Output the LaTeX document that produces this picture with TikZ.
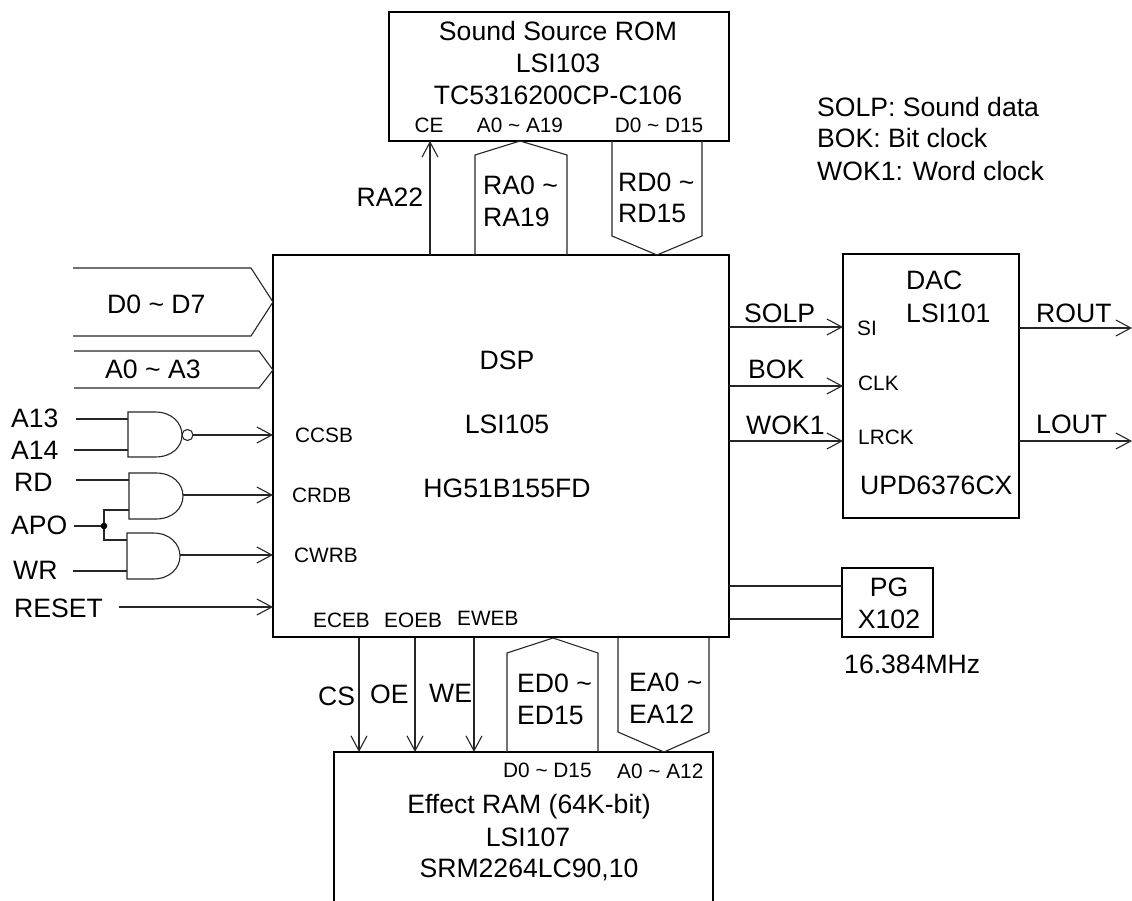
\documentclass[tikz,border=0pt]{standalone}
\usepackage{fontspec}
\setmainfont{Liberation Sans}
\usetikzlibrary{arrows.meta}
\newcommand{\bigf}{\fontsize{26.6}{30}\selectfont}
\newcommand{\smallf}{\fontsize{20.8}{24}\selectfont}
\newcommand{\tld}{\textasciitilde}
\tikzset{
  box/.style={draw=black,line width=2pt,anchor=north west,inner sep=0pt,outer sep=0pt},
  wire/.style={draw=black!85,line width=1.1pt},
  arr/.style={wire,-{Straight Barb[length=15pt,width=16pt,line width=1.1pt]}},
  big/.style={font=\bigf,inner sep=0pt},
  sml/.style={font=\smallf,inner sep=0pt},
}
\begin{document}
\begin{tikzpicture}[x=1pt,y=-1pt]
\useasboundingbox (0,0) rectangle (1132,901);
% boxes
\node[box,minimum width=340pt,minimum height=129pt] (rom) at (389,12) {};
\node[box,minimum width=456pt,minimum height=382pt] (dsp) at (273,255) {};
\node[box,minimum width=176pt,minimum height=264pt] (dac) at (843,254) {};
\node[box,minimum width=91pt,minimum height=69pt] (pg) at (842,568) {};
% RAM: open at the bottom, its sides run off the picture
\coordinate (ramBL) at (334,901);
\coordinate (ramTL) at (334,752);
\coordinate (ramTR) at (713,752);
\coordinate (ramBR) at (713,901);
\draw[black,line width=2pt] (ramBL) -- (ramTL) -- (ramTR) -- (ramBR);
% ports
\coordinate (dspCE) at (430,255); \coordinate (romCE) at (430,141);
\draw[arr] (dspCE) -- (romCE);
% buses
\draw[wire] (475,255) -- (475,155) -- (520,141) -- (567,155) -- (567,255);
\draw[wire] (612,141) -- (612,236) -- (657,255) -- (702,236) -- (702,141);
\draw[wire] (73,268) -- (251,268) -- (273,302) -- (251,336) -- (73,336);
\draw[wire] (74,351) -- (259,351) -- (273,370) -- (259,388) -- (74,388);
\draw[wire] (507,752) -- (507,653) -- (553,638) -- (598,653) -- (598,752);
\draw[wire] (618,638) -- (618,732) -- (664,752) -- (709,732) -- (709,638);
% gates
\coordinate (g1a) at (128,419); \coordinate (g1b) at (128,450);
\coordinate (g2a) at (129,480); \coordinate (g2b) at (129,510);
\coordinate (g3a) at (127,540); \coordinate (g3b) at (127,571);
\draw[wire] (128,412) -- (155,412) .. controls (172,412) and (182,423) .. (182,435) .. controls (182,447) and (172,457) .. (155,457) -- (128,457) -- cycle;
\draw[wire] (129,473) -- (156,473) .. controls (173,473) and (183,484) .. (183,496) .. controls (183,508) and (173,519) .. (156,519) -- (129,519) -- cycle;
\draw[wire] (127,533) -- (153,533) .. controls (170,533) and (180,544) .. (180,556) .. controls (180,568) and (170,579) .. (153,579) -- (127,579) -- cycle;
\node[draw=black!85,line width=1.1pt,circle,minimum size=11pt,inner sep=0pt,outer sep=0pt] (bub) at (187.5,435) {};
\coordinate (inA13) at (76,419); \coordinate (inA14) at (74,450);
\coordinate (inRD) at (76,480); \coordinate (inAPO) at (74,526);
\coordinate (inWR) at (73,571); \coordinate (inRST) at (119,607);
\coordinate (apoJ) at (104,526);
\draw[wire] (inA13) -- (g1a);
\draw[wire] (inA14) -- (g1b);
\draw[wire] (inRD) -- (g2a);
\draw[wire] (inWR) -- (g3b);
\draw[wire] (inAPO) -- (apoJ);
\draw[wire] (g2b) -| (apoJ) |- (g3a);
\fill[black] (apoJ) circle (3.3pt);
\coordinate (dCC) at (273,435); \coordinate (dCR) at (273,495);
\coordinate (dCW) at (273,555); \coordinate (dRS) at (273,607);
\draw[arr] (bub.east) -- (dCC);
\coordinate (g2o) at (183,495); \coordinate (g3o) at (180,555);
\draw[arr] (g2o) -- (dCR);
\draw[arr] (g3o) -- (dCW);
\draw[arr] (inRST) -- (dRS);
% right side
\coordinate (sA) at (729,327); \coordinate (sB) at (843,327);
\coordinate (bA) at (729,386); \coordinate (bB) at (843,386);
\coordinate (wA) at (729,441); \coordinate (wB) at (843,441);
\coordinate (rA) at (1019,328); \coordinate (rB) at (1132,328);
\coordinate (lA) at (1019,441); \coordinate (lB) at (1132,441);
\draw[arr] (sA) -- (sB);
\draw[arr] (bA) -- (bB);
\draw[arr] (wA) -- (wB);
\draw[arr] (rA) -- (rB);
\draw[arr] (lA) -- (lB);
\coordinate (p1A) at (729,586); \coordinate (p1B) at (842,586);
\coordinate (p2A) at (729,619); \coordinate (p2B) at (842,619);
\draw[wire] (p1A) -- (p1B);
\draw[wire] (p2A) -- (p2B);
% bottom control
\coordinate (cA) at (359,638); \coordinate (cB) at (359,752);
\coordinate (oA) at (415,638); \coordinate (oB) at (415,752);
\coordinate (eA) at (474,638); \coordinate (eB) at (474,752);
\draw[arr] (cA) -- (cB);
\draw[arr] (oA) -- (oB);
\draw[arr] (eA) -- (eB);
% text: ROM
\node[big,anchor=base] (t1) at (558,41) {Sound Source ROM};
\node[big,anchor=base] (t2) at (558,73) {LSI103};
\node[big,anchor=base] (t3) at (558,105) {TC5316200CP-C106};
\node[sml,anchor=base] (t4) at (429,133) {CE};
\node[sml,anchor=base] (t5) at (520,133) {A0 \tld{} A19};
\node[sml,anchor=base] (t6) at (659,133) {D0 \tld{} D15};
\node[big,anchor=base] (t7) at (390,207) {RA22};
\node[big,anchor=base west] (t8) at (483,195) {RA0 \tld};
\node[big,anchor=base west] (t9) at (483,227) {RA19};
\node[big,anchor=base west] (t10) at (618,192) {RD0 \tld};
\node[big,anchor=base west] (t11) at (618,223) {RD15};
% legend
\node[big,anchor=base west] (t12) at (817,117) {SOLP: Sound data};
\node[big,anchor=base west] (t13) at (817,148) {BOK: Bit clock};
\node[big,anchor=base west] (t14) at (817,181) {WOK1: Word clock};
% left
\node[big,anchor=base west] (t15) at (107,313) {D0 \tld{} D7};
\node[big,anchor=base west] (t16) at (105,378) {A0 \tld{} A3};
\node[big,anchor=base west] (t17) at (11,427) {A13};
\node[big,anchor=base west] (t18) at (11,459) {A14};
\node[big,anchor=base west] (t19) at (14,491) {RD};
\node[big,anchor=base west] (t20) at (11,534) {APO};
\node[big,anchor=base west] (t21) at (13,579) {WR};
\node[big,anchor=base west] (t22) at (14,617) {RESET};
% DSP
\node[big,anchor=base] (t23) at (507,369) {DSP};
\node[big,anchor=base] (t24) at (507,433) {LSI105};
\node[big,anchor=base] (t25) at (507,497) {HG51B155FD};
\node[sml,anchor=base west] (t26) at (295,442) {CCSB};
\node[sml,anchor=base west] (t27) at (292,502) {CRDB};
\node[sml,anchor=base west] (t28) at (294,562) {CWRB};
\node[sml,anchor=base west] (t29) at (313,627) {ECEB};
\node[sml,anchor=base west] (t30) at (384,627) {EOEB};
\node[sml,anchor=base west] (t31) at (457,625) {EWEB};
% bottom
\node[big,anchor=base west] (t32) at (318,705) {CS};
\node[big,anchor=base west] (t33) at (370,703) {OE};
\node[big,anchor=base west] (t34) at (429,702) {WE};
\node[big,anchor=base west] (t35) at (517,692) {ED0 \tld};
\node[big,anchor=base west] (t36) at (517,724) {ED15};
\node[big,anchor=base west] (t37) at (629,691) {EA0 \tld};
\node[big,anchor=base west] (t38) at (629,723) {EA12};
\node[sml,anchor=base west] (t39) at (503,777) {D0 \tld{} D15};
\node[sml,anchor=base west] (t40) at (617,778) {A0 \tld{} A12};
\node[big,anchor=base] (t41) at (529,813) {Effect RAM (64K-bit)};
\node[big,anchor=base] (t42) at (528,846) {LSI107};
\node[big,anchor=base] (t43) at (529,877) {SRM2264LC90,10};
% DAC
\node[big,anchor=base west] (t44) at (906,290) {DAC};
\node[big,anchor=base west] (t45) at (906,322) {LSI101};
\node[sml,anchor=base west] (t46) at (857,335) {SI};
\node[sml,anchor=base west] (t47) at (858,390) {CLK};
\node[sml,anchor=base west] (t48) at (858,444) {LRCK};
\node[big,anchor=base west] (t49) at (860,494) {UPD6376CX};
\node[big,anchor=base west] (t50) at (744,322) {SOLP};
\node[big,anchor=base west] (t51) at (748,378) {BOK};
\node[big,anchor=base west] (t52) at (746,434) {WOK1};
\node[big,anchor=base west] (t53) at (1036,322) {ROUT};
\node[big,anchor=base west] (t54) at (1036,433) {LOUT};
\node[big,anchor=base] (t55) at (889,596) {PG};
\node[big,anchor=base] (t56) at (889,628) {X102};
\node[big,anchor=base west] (t57) at (844,673) {16.384MHz};
\end{tikzpicture}
\end{document}
